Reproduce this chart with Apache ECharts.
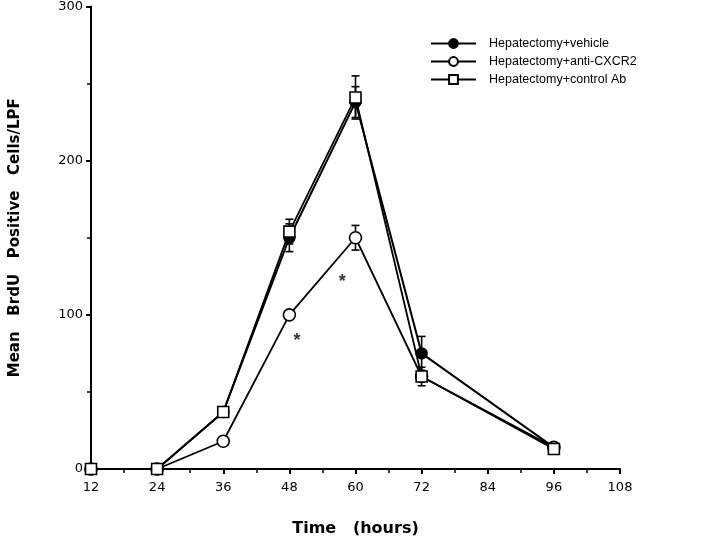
<!DOCTYPE html>
<html>
<head>
<meta charset="utf-8">
<script src="https://cdn.jsdelivr.net/npm/echarts@6/dist/echarts.min.js"></script>
<style>html,body{margin:0;padding:0;background:#fff;}#c{width:720px;height:543px;}</style>
</head>
<body>
<div id="c"></div>
<script>
const hours = [12, 24, 36, 48, 60, 72, 96];
const vehicle = [0, 0, 37, 150, 238, 75, 14];
const antiCXCR2 = [0, 0, 18, 100, 150, 60, 14];
const controlAb = [0, 0, 37, 154, 241, 60, 13];
const vehicleErr = [0, 0, 0, 9, 10, 11, 0];
const antiErr = [0, 0, 0, 0, 8, 0, 0];
const controlErr = [0, 0, 0, 8, 14, 6, 0];
const asterisks = [[49.4, 83], [57.6, 121]];
const seriesNames = ['Hepatectomy+vehicle', 'Hepatectomy+anti-CXCR2', 'Hepatectomy+control Ab'];
const xTicks = {min: 12, max: 108, step: 12};
const yTicks = {min: 0, max: 300, step: 100};

const FONT = 'Liberation Sans, Arial, Helvetica, sans-serif';
const WIDE = 'DejaVu Sans, Verdana, sans-serif';

function pairs(vals) { return hours.map((h, i) => [h, vals[i]]); }
function errData(vals, errs) {
  const out = [];
  hours.forEach((h, i) => { if (errs[i] > 0) out.push([h, vals[i] - errs[i], vals[i] + errs[i]]); });
  return out;
}
function errSeries(vals, errs) {
  return {
    type: 'custom',
    z: 1,
    silent: true,
    data: errData(vals, errs),
    renderItem: function (params, api) {
      const x = api.value(0);
      const lo = api.coord([x, api.value(1)]);
      const hi = api.coord([x, api.value(2)]);
      const w = 4;
      const st = {stroke: '#000', lineWidth: 1.6};
      return {
        type: 'group',
        children: [
          {type: 'line', shape: {x1: lo[0], y1: lo[1], x2: hi[0], y2: hi[1]}, style: st},
          {type: 'line', shape: {x1: hi[0] - w, y1: hi[1], x2: hi[0] + w, y2: hi[1]}, style: st},
          {type: 'line', shape: {x1: lo[0] - w, y1: lo[1], x2: lo[0] + w, y2: lo[1]}, style: st}
        ]
      };
    }
  };
}

const chart = echarts.init(document.getElementById('c'), null, {renderer: 'canvas'});
chart.setOption({
  animation: false,
  backgroundColor: '#fff',
  grid: {left: 91, right: 100, top: 6, bottom: 74, containLabel: false},
  legend: {
    data: seriesNames,
    orient: 'vertical',
    left: 425,
    top: 32,
    itemWidth: 45,
    itemHeight: 11,
    itemGap: 5,
    textStyle: {fontFamily: FONT, fontSize: 12.5, color: '#000', padding: [0, 0, 0, 8]}
  },
  xAxis: {
    type: 'value',
    min: xTicks.min, max: xTicks.max, interval: xTicks.step,
    name: 'Time   (hours)',
    nameLocation: 'middle',
    nameGap: 52,
    nameTextStyle: {fontFamily: WIDE, fontSize: 16, fontWeight: 'bold', color: '#000'},
    axisLine: {lineStyle: {color: '#000', width: 2}},
    axisTick: {show: true, length: 5, lineStyle: {color: '#000', width: 2}},
    minorTick: {show: true, splitNumber: 2, length: 4, lineStyle: {color: '#000', width: 1.5}},
    axisLabel: {fontFamily: WIDE, fontSize: 13, color: '#000', margin: 12},
    splitLine: {show: false}
  },
  yAxis: {
    type: 'value',
    min: yTicks.min, max: yTicks.max, interval: yTicks.step,
    name: 'Mean   BrdU   Positive   Cells/LPF',
    nameLocation: 'middle',
    nameGap: 68,
    nameTextStyle: {fontFamily: WIDE, fontSize: 15, fontWeight: 'bold', color: '#000'},
    axisLine: {show: true, lineStyle: {color: '#000', width: 2}},
    axisTick: {show: true, length: 5, lineStyle: {color: '#000', width: 2}},
    minorTick: {show: true, splitNumber: 2, length: 4, lineStyle: {color: '#000', width: 1.5}},
    axisLabel: {fontFamily: WIDE, fontSize: 13, color: '#000', margin: 8},
    splitLine: {show: false}
  },
  series: [
    errSeries(vehicle, vehicleErr),
    errSeries(antiCXCR2, antiErr),
    errSeries(controlAb, controlErr),
    {
      name: seriesNames[0], type: 'line', data: pairs(vehicle), z: 3,
      symbol: 'circle', symbolSize: 11, showAllSymbol: true,
      lineStyle: {color: '#000', width: 2},
      itemStyle: {color: '#000', borderColor: '#000', borderWidth: 1.5}
    },
    {
      name: seriesNames[1], type: 'line', data: pairs(antiCXCR2), z: 4,
      symbol: 'circle', symbolSize: 12, showAllSymbol: true,
      lineStyle: {color: '#000', width: 1.8},
      itemStyle: {color: '#fff', borderColor: '#000', borderWidth: 1.6}
    },
    {
      name: seriesNames[2], type: 'line', data: pairs(controlAb), z: 5,
      symbol: 'rect', symbolSize: 11, showAllSymbol: true,
      lineStyle: {color: '#000', width: 1.8},
      itemStyle: {color: '#fff', borderColor: '#000', borderWidth: 1.6}
    },
    {
      type: 'scatter', data: asterisks, symbolSize: 0, silent: true, z: 6,
      label: {show: true, position: 'inside', formatter: '*', fontFamily: FONT, fontSize: 18, fontWeight: 'bold', color: '#000'}
    }
  ]
});
</script>
</body>
</html>
